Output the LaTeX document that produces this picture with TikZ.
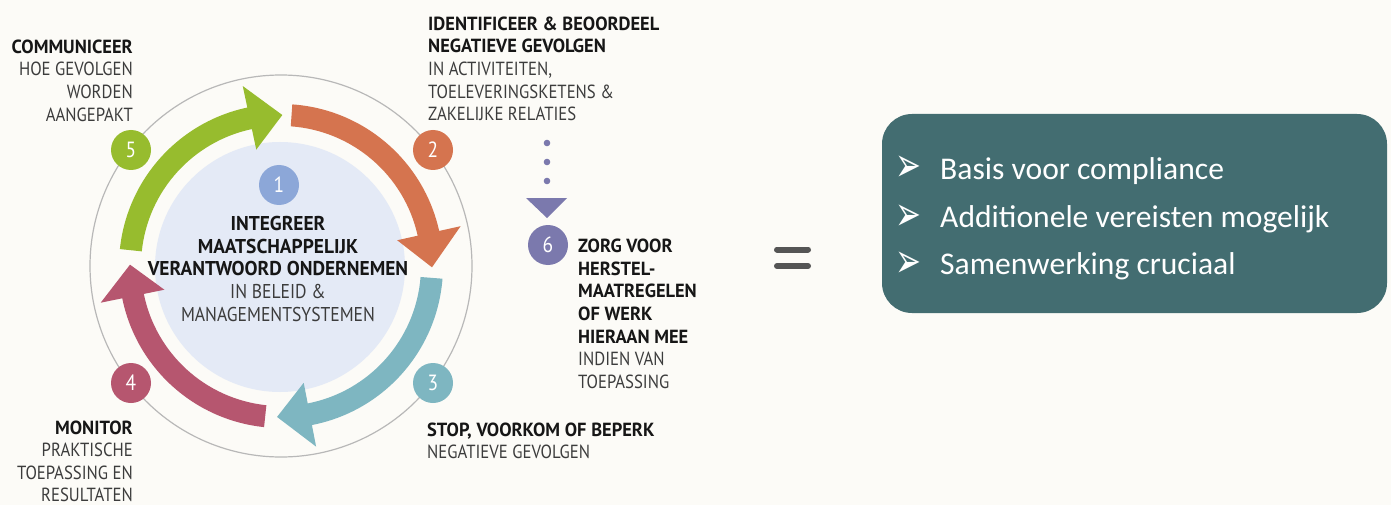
\documentclass[tikz,border=0pt]{standalone}
\usepackage{graphicx}
\usepackage{fontspec}
\setmainfont[FakeStretch=0.88, BoldFeatures={FakeStretch=0.97}]{PT Sans}
\newfontfamily\boxfont{Carlito}
\newfontfamily\symfont{DejaVu Sans}
\definecolor{bgcol}{HTML}{FCFBF7}
\definecolor{ringcol}{HTML}{B8B8B8}
\definecolor{innercol}{HTML}{E4EAF6}
\definecolor{greencol}{HTML}{97BC2E}
\definecolor{orangecol}{HTML}{D5744F}
\definecolor{tealcol}{HTML}{7EB6C1}
\definecolor{pinkcol}{HTML}{B6566F}
\definecolor{bluecol}{HTML}{8CA7D8}
\definecolor{purplecol}{HTML}{7B79AD}
\definecolor{hdcol}{HTML}{161616}
\definecolor{txtcol}{HTML}{3C3C3C}
\definecolor{boxcol}{HTML}{436D71}
\definecolor{eqcol}{HTML}{555555}
\newcommand\headtxt[1]{{\bfseries\color{hdcol}#1}}
\newcommand\bulglyph{\scalebox{1}[1.55]{➢}}
\begin{document}
\begin{tikzpicture}[x=1pt,y=-1pt,
  lbl/.style={inner sep=0pt, text=txtcol, font=\fontsize{19}{22.6}\selectfont},
  numc/.style={circle, minimum size=40pt, inner sep=0pt, text=white, font=\fontsize{22}{22}\selectfont},
  boxtxt/.style={inner sep=0pt, text=white, font=\boxfont\fontsize{31.6}{31.6}\selectfont},
  bul/.style={inner sep=0pt, text=white, font=\symfont\fontsize{31}{31}\selectfont},
  eqbar/.style={draw=eqcol, line width=6pt, line cap=round},
  dotline/.style={draw=purplecol, line width=6.6pt, line cap=round, dash pattern=on 0pt off 19pt}
]
\useasboundingbox (0,0) rectangle (1391,505);
\fill[bgcol] (0,0) rectangle (1391,505);

% ring and inner disc
\node[circle, draw=ringcol, line width=1.2pt, minimum size=382pt, inner sep=0pt] (ring) at (281,266) {};
\node[circle, fill=innercol, minimum size=250pt, inner sep=0pt] (inner) at (280,267) {};

% arrows
\begin{scope}[shift={(281,266)}, y=1pt]
  \fill[greencol] (174:162) arc[start angle=174, end angle=102, radius=162]
     -- (102:184) -- (89.5:151) -- (102:119) -- (102:140)
     arc[start angle=102, end angle=174, radius=140] -- cycle;
  \fill[orangecol] (86:162) arc[start angle=86, end angle=12.5, radius=162]
     -- (12.5:184) -- (-0.5:151) -- (12.5:119) -- (12.5:140)
     arc[start angle=12.5, end angle=86, radius=140] -- cycle;
  \fill[tealcol] (-4.5:162) arc[start angle=-4.5, end angle=-79, radius=162]
     -- (-79:184) -- (-91.5:151) -- (-79:119) -- (-79:140)
     arc[start angle=-79, end angle=-4.5, radius=140] -- cycle;
  \fill[pinkcol] (264:162) arc[start angle=264, end angle=191.5, radius=162]
     -- (191.5:184) -- (179.5:151) -- (191.5:119) -- (191.5:140)
     arc[start angle=191.5, end angle=264, radius=140] -- cycle;
\end{scope}

% numbered circles
\node[numc, fill=bluecol] (n1) at (279,185) {1};
\node[numc, fill=orangecol] (n2) at (433,150) {2};
\node[numc, fill=tealcol] (n3) at (433,383) {3};
\node[numc, fill=pinkcol] (n4) at (131,383) {4};
\node[numc, fill=greencol] (n5) at (131,150) {5};
\node[numc, fill=purplecol] (n6) at (548,245) {6};

% center text
\node[lbl, anchor=north, align=center, font=\fontsize{20}{22.7}\selectfont] (ctext) at (278,216)
  {\headtxt{INTEGREER}\\\headtxt{MAATSCHAPPELIJK}\\\headtxt{VERANTWOORD ONDERNEMEN}\\IN BELEID \&\\MANAGEMENTSYSTEMEN};

% labels
\node[lbl, anchor=north east, align=right] (t5) at (133,39.5)
  {\headtxt{COMMUNICEER}\\HOE GEVOLGEN\\WORDEN\\AANGEPAKT};
\node[lbl, anchor=north west, align=left] (t2) at (428,16.5)
  {\headtxt{IDENTIFICEER \& BEOORDEEL}\\\headtxt{NEGATIEVE GEVOLGEN}\\IN ACTIVITEITEN,\\TOELEVERINGSKETENS \&\\ZAKELIJKE RELATIES};
\node[lbl, anchor=north west, align=left] (t6) at (578,239)
  {\headtxt{ZORG VOOR}\\\headtxt{HERSTEL-}\\\headtxt{MAATREGELEN}\\\headtxt{OF WERK}\\\headtxt{HIERAAN MEE}\\INDIEN VAN\\TOEPASSING};
\node[lbl, anchor=north west, align=left] (t3) at (427,422.5)
  {\headtxt{STOP, VOORKOM OF BEPERK}\\NEGATIEVE GEVOLGEN};
\node[lbl, anchor=north east, align=right, font=\fontsize{19}{22.2}\selectfont] (t4) at (133,421)
  {\headtxt{MONITOR}\\PRAKTISCHE\\TOEPASSING EN\\RESULTATEN};

% dotted connector to step 6
\coordinate (dtop) at (547,143);
\coordinate (dbot) at (547,181.5);
\draw[dotline] (dtop) -- (dbot);
\fill[purplecol] (526,198) -- (567,198) -- (547,218) -- cycle;

% equals sign
\coordinate (e1a) at (777,249.5); \coordinate (e1b) at (808,249.5);
\coordinate (e2a) at (777,266); \coordinate (e2b) at (808,266);
\draw[eqbar] (e1a) -- (e1b);
\draw[eqbar] (e2a) -- (e2b);

% box
\node[fill=boxcol, rounded corners=30pt, minimum width=505pt, minimum height=199pt, inner sep=0pt] (box) at (1134.5,213.5) {};
\node[bul, anchor=base west] (u1) at (895,182) {\bulglyph};
\node[bul, anchor=base west] (u2) at (895,230) {\bulglyph};
\node[bul, anchor=base west] (u3) at (895,277) {\bulglyph};
\node[boxtxt, anchor=base west] (b1) at (940,179) {Basis voor compliance};
\node[boxtxt, anchor=base west] (b2) at (940,227) {Additionele vereisten mogelijk};
\node[boxtxt, anchor=base west] (b3) at (940,274) {Samenwerking cruciaal};
\end{tikzpicture}
\end{document}
